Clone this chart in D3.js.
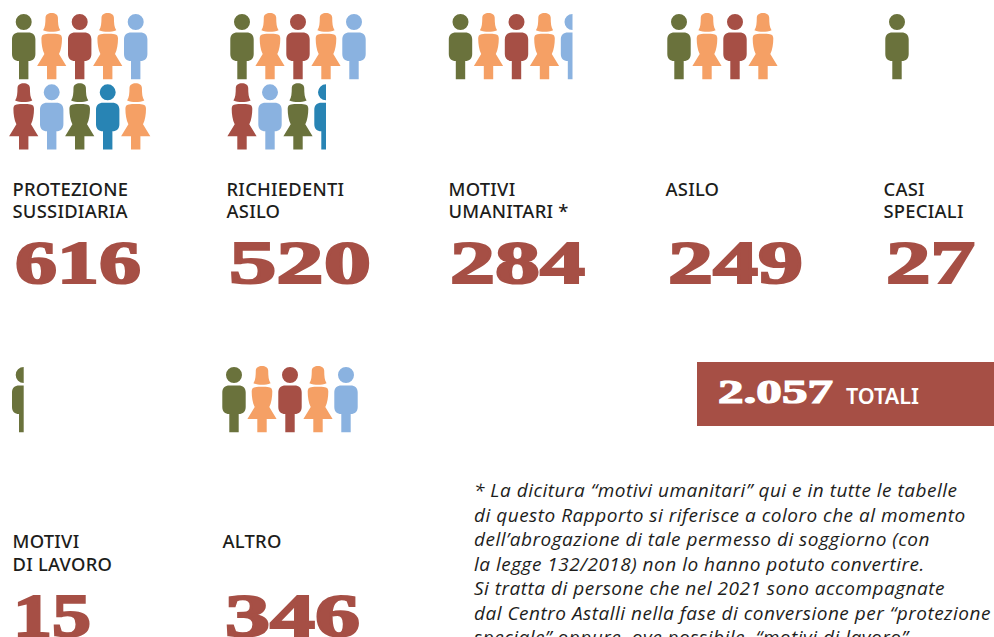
<!DOCTYPE html>
<html>
<head>
<meta charset="utf-8">
<script src="https://d3js.org/d3.v7.min.js"></script>
<style>
  html, body { margin: 0; padding: 0; background: #fff; overflow: hidden; }
  svg { display: block; }
  .label { font-family: "Noto Sans", sans-serif; font-weight: 500; font-size: 18.4px; letter-spacing: 0.25px; fill: #1d1d1b; }
  .number { font-family: "Liberation Serif", serif; font-weight: 700; font-size: 62px; fill: #a64f45; stroke: #a64f45; stroke-width: 2.2px; }
  .note { font-family: "Open Sans", sans-serif; font-style: italic; font-size: 19px; letter-spacing: 0.5px; fill: #1d1d1b; }
</style>
</head>
<body>
<div id="chart"></div>
<script>
// Data
const categories = [
  ["PROTEZIONE", "SUSSIDIARIA"],
  ["RICHIEDENTI", "ASILO"],
  ["MOTIVI", "UMANITARI *"],
  ["ASILO"],
  ["CASI", "SPECIALI"],
  ["MOTIVI", "DI LAVORO"],
  ["ALTRO"],
];
const values = [616, 520, 284, 249, 27, 15, 346];
const iconCounts = [10, 8.5, 4.5, 4, 1, 0.5, 5];
const total = "2.057";
const totalLabel = "TOTALI";
const iconKinds = ["m", "f", "m", "f", "m", "f", "m", "f", "m", "f"];
const iconColors = ["olive", "orange", "brick", "orange", "blue", "brick", "blue", "olive", "teal", "orange"];
const noteLines = [
  "La dicitura “motivi umanitari” qui e in tutte le tabelle",
  "di questo Rapporto si riferisce a coloro che al momento",
  "dell’abrogazione di tale permesso di soggiorno (con",
  "la legge 132/2018) non lo hanno potuto convertire.",
  "Si tratta di persone che nel 2021 sono accompagnate",
  "dal Centro Astalli nella fase di conversione per “protezione",
  "speciale” oppure, ove possibile, “motivi di lavoro”.",
];

// Layout
const width = 994, height = 637;
const palette = { olive: "#6a723c", orange: "#f5a065", brick: "#a64f45", blue: "#8ab2e0", teal: "#2884b4" };
const groupLayout = [
  { icon: 23.7, label: 12.5, num: 15, numWidth: 126, row: 0 },
  { icon: 242, label: 226.5, num: 229, numWidth: 142, row: 0 },
  { icon: 460.5, label: 448.5, num: 450, numWidth: 135, row: 0 },
  { icon: 679, label: 665.5, num: 668, numWidth: 135, row: 0 },
  { icon: 897, label: 883.5, num: 886, numWidth: 89, row: 0 },
  { icon: 23.7, label: 12.5, num: 13, numWidth: 78, row: 1 },
  { icon: 234, label: 222.5, num: 225, numWidth: 135, row: 1 },
];
const rowShift = 352.5;
const iconX = d3.scaleLinear().domain([0, 1]).range([0, 28]);
const iconY = d3.scaleLinear().domain([0, 1]).range([0, 70.3]);
const PER_ROW = 5;

// Icon shapes, origin on the centre line at the top of the head
const malePath =
  "M-8 8a8 8 0 1 0 16 0a8 8 0 1 0 -16 0Z" +
  "M-4.5 18.5H4.5C9 18.5 11.7 21 11.7 25.5V40C11.7 44.5 9 47 4.7 47V65.3H-4.7V47C-9 47 -11.7 44.5 -11.7 40V25.5C-11.7 21 -9 18.5 -4.5 18.5Z";
const femalePath =
  "M-6.2 3.5C-6 0.6 -3.5 -1 0 -1C3.5 -1 6 0.6 6.2 3.5C6.3 9 6.5 13.5 8.6 16.2C6 17.3 3 17.7 0 17.7C-3 17.7 -6 17.3 -8.6 16.2C-6.5 13.5 -6.3 9 -6.2 3.5Z" +
  "M-7 20.2C-3 19.6 3 19.6 7 20.2C9.4 20.6 10.3 22 10.3 24.5C10.3 30 9.4 36 7.3 40L14.6 52H4.7V65.3H-4.7V52H-14.6L-7.3 40C-9.4 36 -10.3 30 -10.3 24.5C-10.3 22 -9.4 20.6 -7 20.2Z";

const svg = d3.select("#chart").append("svg").attr("width", width).attr("height", height);
const defs = svg.append("defs");

function drawGroup(i) {
  const layout = groupLayout[i];
  const top = 14 + layout.row * (rowShift + 0.5);
  const count = iconCounts[i];
  const whole = Math.ceil(count);

  const g = svg.append("g").attr("transform", `translate(${layout.icon}, ${top})`);

  // The last icon is cut through when the count is not whole
  const lastIndex = whole - 1;
  const fraction = count - Math.floor(count);
  if (fraction > 0) {
    defs.append("clipPath").attr("id", `cut-${i}`)
      .append("rect")
      .attr("x", -20)
      .attr("y", -5)
      .attr("width", 20 + (fraction - 0.5) * 40)
      .attr("height", 80);
  }

  g.selectAll("path")
    .data(d3.range(whole))
    .enter()
    .append("path")
    .attr("transform", (d) => `translate(${iconX(d % PER_ROW)}, ${iconY(Math.floor(d / PER_ROW))})`)
    .attr("clip-path", (d) => (fraction > 0 && d === lastIndex ? `url(#cut-${i})` : null))
    .attr("fill", (d) => palette[iconColors[d]])
    .attr("d", (d) => (iconKinds[d] === "m" ? malePath : femalePath));

  // Category label
  const labelY = 195.5 + layout.row * rowShift;
  svg.append("g").selectAll("text")
    .data(categories[i])
    .enter()
    .append("text")
    .attr("class", "label")
    .attr("x", layout.label)
    .attr("y", (d, j) => labelY + j * 22.5)
    .text((d) => d);

  // Big number
  const numY = 283 + layout.row * rowShift;
  svg.append("text")
    .attr("class", "number")
    .attr("x", layout.num)
    .attr("y", numY)
    .attr("textLength", layout.numWidth)
    .attr("lengthAdjust", "spacingAndGlyphs")
    .text(values[i]);
}

d3.range(values.length).forEach(drawGroup);

// Total box
svg.append("rect")
  .attr("x", 697).attr("y", 362)
  .attr("width", width - 697).attr("height", 64)
  .attr("fill", palette.brick);
svg.append("text")
  .attr("x", 718).attr("y", 403)
  .attr("textLength", 115)
  .attr("lengthAdjust", "spacingAndGlyphs")
  .attr("font-family", "Liberation Serif, serif")
  .attr("font-weight", 700)
  .attr("font-size", 33)
  .attr("fill", "#fff")
  .attr("stroke", "#fff")
  .attr("stroke-width", 1.2)
  .text(total);
svg.append("text")
  .attr("x", 846).attr("y", 403.5)
  .attr("font-family", "Noto Sans, sans-serif")
  .attr("font-weight", 600)
  .attr("font-size", 21.5)
  .attr("fill", "#fff")
  .text(totalLabel);

// Footnote
const note = svg.append("g");
note.selectAll("text")
  .data(noteLines)
  .enter()
  .append("text")
  .attr("class", "note")
  .attr("x", 474)
  .attr("y", (d, i) => 497 + i * 24.5)
  .text((d, i) => (i === 0 ? "* " + d : d));
</script>
</body>
</html>
